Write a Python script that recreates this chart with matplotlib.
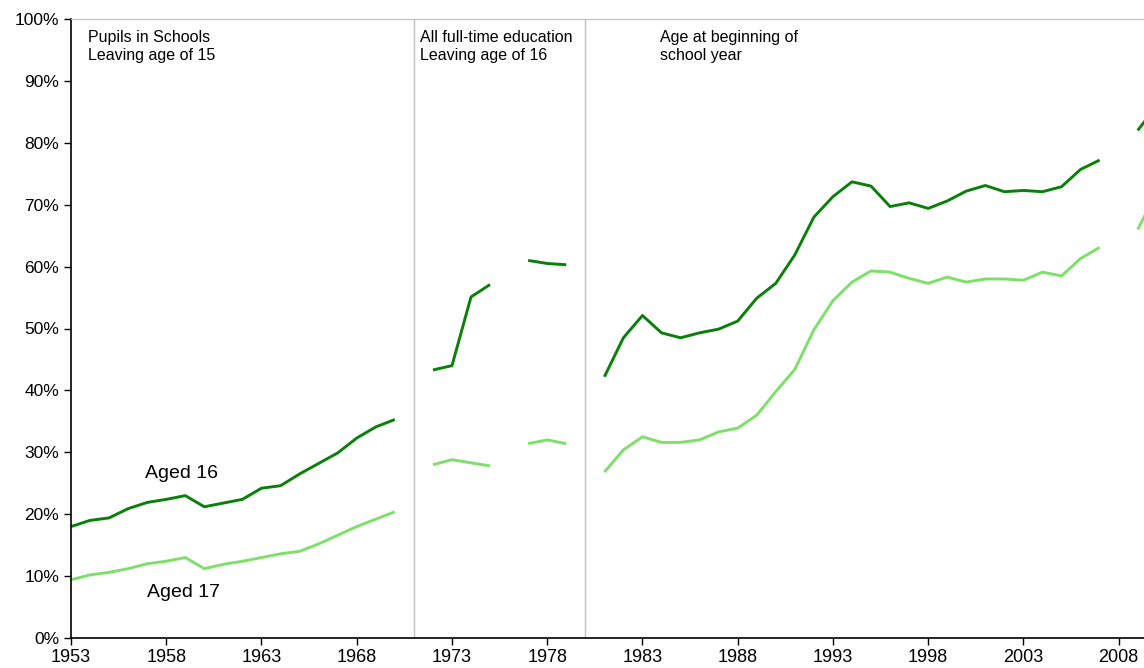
import numpy as np
import matplotlib.pyplot as plt
from matplotlib.ticker import FuncFormatter

plt.rcParams['font.family'] = ['Liberation Sans', 'DejaVu Sans']

nan = np.nan
years = list(range(1953, 2011))

# percent staying on in education (gaps = series breaks)
aged16 = [18.0, 19.0, 19.4, 20.9, 21.9, 22.4, 23.0, 21.2, 21.8, 22.4,
          24.2, 24.6, 26.5, 28.2, 29.9, 32.3, 34.1, 35.3,
          nan,
          43.3, 44.0, 55.1, 57.1,
          nan,
          61.0, 60.5, 60.3,
          nan,
          42.2, 48.5, 52.1, 49.3, 48.5, 49.3, 49.9, 51.2, 54.9, 57.3,
          61.9, 68.0, 71.3, 73.7, 73.0,
          69.7, 70.3, 69.4, 70.6, 72.2, 73.1, 72.1, 72.3, 72.1, 72.9,
          75.7, 77.2,
          nan,
          82.0, 86.0]

aged17 = [9.4, 10.2, 10.6, 11.2, 12.0, 12.4, 13.0, 11.2, 11.9, 12.4,
          13.0, 13.6, 14.0, 15.2, 16.6, 18.0, 19.2, 20.4,
          nan,
          28.0, 28.8, 28.3, 27.8,
          nan,
          31.4, 32.0, 31.4,
          nan,
          26.8, 30.4, 32.5, 31.6, 31.6, 32.0, 33.3, 33.9, 36.0, 39.8,
          43.4, 49.8, 54.5, 57.5, 59.3,
          59.1, 58.1, 57.3, 58.3, 57.5, 58.0, 58.0, 57.8, 59.1, 58.5,
          61.3, 63.1,
          nan,
          66.0, 72.0]

breaks = [1971, 1980]
section_labels = ["Pupils in Schools\nLeaving age of 15",
                  "All full-time education\nLeaving age of 16",
                  "Age at beginning of\nschool year"]
section_x = [1953.9, 1971.3, 1983.9]

fig = plt.figure(figsize=(11.44, 6.68), dpi=100)
ax = fig.add_axes([71 / 1144, 30 / 668, 1 - 71 / 1144, 619 / 668])

dark = '#0a7f0a'
light = '#7ee06a'
ax.plot(years, aged16, color=dark, lw=2.1, solid_capstyle='butt')
ax.plot(years, aged17, color=light, lw=2.1, solid_capstyle='butt')

for b in breaks:
    ax.axvline(b, color='#c0c0c0', lw=1)

for x, s in zip(section_x, section_labels):
    ax.text(x, 98.2, s, fontsize=11.5, va='top', ha='left', linespacing=1.2)

ax.text(1956.9, 26.5, "Aged 16", fontsize=14, va='center', ha='left')
ax.text(1957.0, 7.4, "Aged 17", fontsize=14, va='center', ha='left')

ax.set_xlim(1953, 2009.33)
ax.set_ylim(0, 100)
ax.set_xticks(range(1953, 2010, 5))
ax.set_yticks(range(0, 101, 10))
ax.yaxis.set_major_formatter(FuncFormatter(lambda v, p: '%d%%' % v))
ax.tick_params(labelsize=13, length=5, width=1, direction='out')
ax.tick_params(axis='x', pad=3)
ax.tick_params(axis='y', labelsize=12.5, pad=3.5)

ax.spines['right'].set_visible(False)
ax.spines['top'].set_color('#c0c0c0')
ax.spines['left'].set_linewidth(1.2)
ax.spines['bottom'].set_linewidth(1.2)

fig.savefig('out.png', dpi=100)
